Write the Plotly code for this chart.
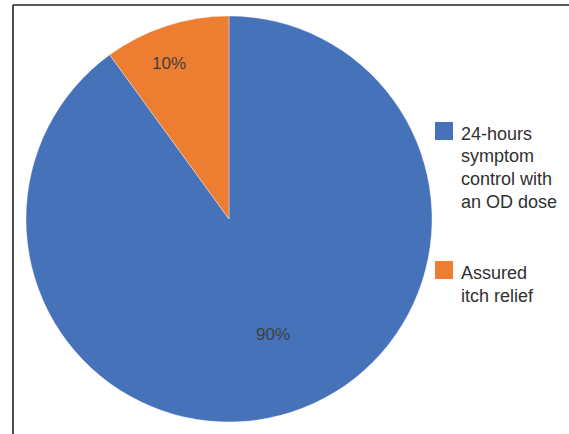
import math
import plotly.graph_objects as go

# ---- data ----
labels = ["24-hours symptom control with an OD dose", "Assured itch relief"]
legend_lines = [["24-hours", "symptom", "control with", "an OD dose"], ["Assured", "itch relief"]]
values = [90, 10]
colors = ["#4672BA", "#ED7D31"]

W, H = 569, 434
FONT = "Liberation Sans, Arial, sans-serif"


def fx(px):
    return px / W


def fy(py):
    return 1 - py / H


cx, cy, r = 229, 219, 203

fig = go.Figure()
fig.add_trace(go.Pie(
    labels=labels,
    values=values,
    sort=False,
    direction="clockwise",
    rotation=0,
    marker=dict(colors=colors, line=dict(color="rgba(255,255,255,0.6)", width=0.6)),
    textinfo="none",
    showlegend=False,
    hoverinfo="label+percent",
    domain=dict(x=[fx(cx - r), fx(cx + r)], y=[fy(cy + r), fy(cy - r)]),
))

annotations = []

# percentage labels placed along each slice's mid-angle (clockwise from 12 o'clock)
total = sum(values)
label_radius = [0.61, 0.82]   # style: fraction of radius per slice
angle_shift = -3              # style: degrees
start = 0.0
for i, v in enumerate(values):
    span = 360.0 * v / total
    mid = math.radians(start + span / 2 + angle_shift)
    start += span
    px = cx + math.sin(mid) * r * label_radius[i]
    py = cy - math.cos(mid) * r * label_radius[i]
    annotations.append(dict(xref="paper", yref="paper", x=fx(px), y=fy(py),
                            xanchor="center", yanchor="middle", showarrow=False, borderpad=0,
                            text=f"{v / total:.0%}",
                            font=dict(family=FONT, size=17, color="#404040")))

shapes = [
    dict(type="line", xref="paper", yref="paper", x0=fx(13), x1=fx(569), y0=fy(5), y1=fy(5),
         line=dict(color="#222222", width=1.6)),
    dict(type="line", xref="paper", yref="paper", x0=fx(13), x1=fx(13), y0=fy(5), y1=fy(434),
         line=dict(color="#222222", width=1.6)),
]

# custom legend: colour key + one annotation per text line
sq_centers = [131, 270]
first_baseline = [140, 279]
line_step = 22.8
for i, lines in enumerate(legend_lines):
    c = sq_centers[i]
    shapes.append(dict(type="rect", xref="paper", yref="paper",
                       x0=fx(435), x1=fx(453), y0=fy(c - 9), y1=fy(c + 9),
                       fillcolor=colors[i], line=dict(width=0)))
    for j, ln in enumerate(lines):
        base = first_baseline[i] + j * line_step
        annotations.append(dict(xref="paper", yref="paper", x=fx(460), y=fy(base - 6.3),
                                xanchor="left", yanchor="middle", align="left", showarrow=False,
                                borderpad=0, text=ln,
                                font=dict(family=FONT, size=18, color="#303030")))

fig.update_layout(
    width=W, height=H,
    margin=dict(l=0, r=0, t=0, b=0),
    paper_bgcolor="white",
    plot_bgcolor="white",
    shapes=shapes,
    annotations=annotations,
)

fig.write_html("out.html", config={"displayModeBar": False},
               post_script="document.body.style.margin='0';document.body.style.overflow='hidden';")
